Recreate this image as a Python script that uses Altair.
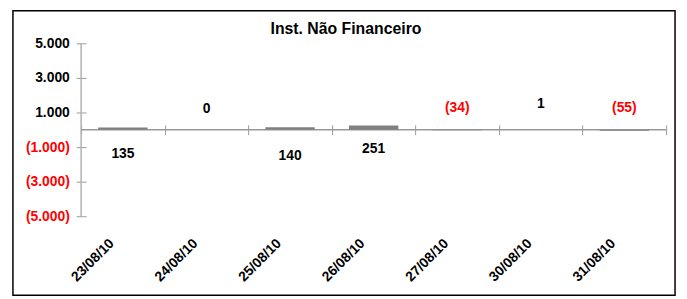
import altair as alt
import pandas as pd

dates = ["23/08/10", "24/08/10", "25/08/10", "26/08/10", "27/08/10", "30/08/10", "31/08/10"]
values = [135, 0, 140, 251, -34, 1, -55]
label_pos = [-1410, 1220, -1500, -1130, 1270, 1470, 1270]
y_ticks = [-5000, -3000, -1000, 1000, 3000, 5000]
title_text = "Inst. Não Financeiro"


def fmt(v):
    s = f"{abs(v):,}".replace(",", ".")
    return f"({s})" if v < 0 else s


df = pd.DataFrame({"date": dates, "value": values, "label_pos": label_pos,
                   "label": [fmt(v) for v in values]})
one = pd.DataFrame({"a": [0]})

W, H = 592, 175
FONT = "Liberation Sans"
AX = "#999999"

x_scale = alt.Scale(domain=dates, paddingInner=0, paddingOuter=0)
y_scale = alt.Scale(domain=[-5000, 5000], nice=False, zero=False)

label_expr = ("datum.value < 0 ? '(' + replace(format(-datum.value, ','), ',', '.') + ')' "
              ": replace(format(datum.value, ','), ',', '.')")

bars = alt.Chart(df).mark_bar(size=50, color="#808080").encode(
    x=alt.X("date:N", scale=x_scale, sort=dates,
            axis=alt.Axis(title=None, orient="bottom", labelAngle=-45, labelAlign="right",
                          labelBaseline="top", labelFont=FONT, labelOffset=-16,
                          labelFontSize=14, labelFontWeight="bold", labelColor="black",
                          domain=False, ticks=False, labelPadding=20)),
    y=alt.Y("value:Q", scale=y_scale,
            axis=alt.Axis(title=None, orient="left", values=y_ticks, labelExpr=label_expr,
                          labelColor={"condition": {"test": "datum.value < 0", "value": "red"},
                                      "value": "black"},
                          labelFont=FONT, labelFontSize=14, labelFontWeight="bold",
                          domain=False, tickSize=10, offset=-5, tickColor=AX,
                          labelPadding=7, grid=False)),
)

labels = alt.Chart(df).mark_text(font=FONT, fontSize=14, fontWeight="bold", baseline="middle").encode(
    x=alt.X("date:N", scale=x_scale, sort=dates,
            axis=alt.Axis(title=None, orient="top", offset=-(H / 2 + 5), tickSize=10,
                          tickBand="extent", labels=False, domain=False, tickColor=AX)),
    y=alt.Y("label_pos:Q", scale=y_scale, axis=None),
    text="label:N",
    color=alt.condition("datum.value < 0", alt.value("red"), alt.value("black")),
)

zero_line = alt.Chart(one).mark_rule(color=AX, strokeWidth=1.5).encode(
    y=alt.YDatum(datum=0, scale=y_scale, axis=None), x=alt.value(0), x2=alt.value(W))

y_line = alt.Chart(one).mark_rule(color="#b0b0b0", strokeWidth=1.5).encode(
    x=alt.value(0), y=alt.value(0), y2=alt.value(H))

frame = alt.Chart(one).mark_rect(fill="transparent", stroke="black", strokeWidth=1.5).encode(
    x=alt.value(-69), x2=alt.value(601), y=alt.value(-33), y2=alt.value(255))

title = alt.Chart(one).mark_text(font=FONT, fontSize=16, fontWeight="bold", baseline="middle").encode(
    x=alt.value(268), y=alt.value(-14), text=alt.datum(title_text))

chart = alt.layer(frame, y_line, zero_line, bars, labels, title).resolve_axis(
    x="independent", y="independent"
).properties(
    width=W, height=H,
    autosize=alt.AutoSizeParams(type="none"),
    padding={"left": 74, "top": 34, "right": 13, "bottom": 81},
).configure_view(stroke=None)

chart.save("out.html", embed_options={"renderer": "svg", "actions": False})
